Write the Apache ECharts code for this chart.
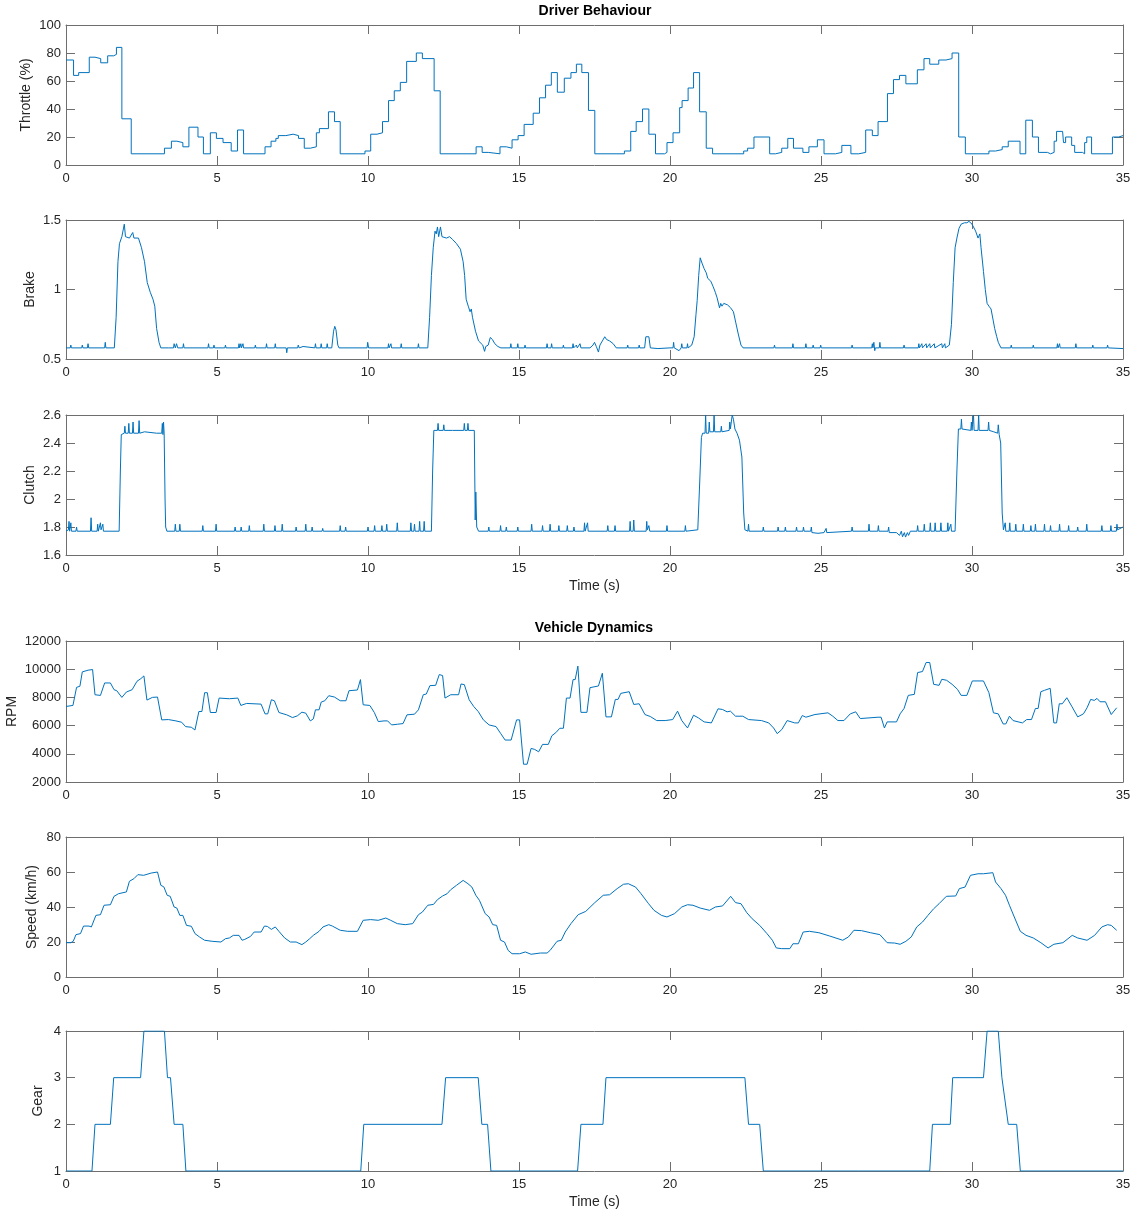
<!DOCTYPE html>
<html>
<head>
<meta charset="utf-8">
<script src="https://cdn.jsdelivr.net/npm/echarts@6/dist/echarts.min.js"></script>
<style>html,body{margin:0;padding:0;background:#fff}#c{width:1140px;height:1216px}</style>
</head>
<body>
<div id="c"></div>
<script>
// ---------- DATA (time in s, value) ----------
const xTicks = [0, 5, 10, 15, 20, 25, 30, 35];

const throttle = [[0,75],[0.25,64],[0.42,66],[0.77,77],[0.96,76],[1.15,73],[1.38,78],[1.58,79],[1.67,84],[1.85,33],[2.16,8],[3.26,12],[3.49,17],[3.67,16],[3.87,13],[4.07,27],[4.37,20],[4.55,8],[4.78,23],[4.98,19],[5.2,16],[5.47,10],[5.68,25],[5.88,8],[6.59,13],[6.79,17],[6.95,19],[7.03,21],[7.28,22],[7.52,21],[7.7,19],[7.89,12],[8.09,13],[8.29,23],[8.39,26],[8.69,38],[8.89,31],[9.08,8],[9.9,10],[10.09,22],[10.3,23],[10.48,31],[10.68,46],[10.87,53],[11.07,59],[11.28,74],[11.6,80],[11.8,76],[12.19,53],[12.39,8],[13.58,13],[13.78,9],[13.98,8],[14.37,13],[14.58,12],[14.77,18],[14.97,21],[15.17,29],[15.47,37],[15.68,48],[15.88,57],[16.07,66],[16.27,52],[16.5,62],[16.72,66],[16.9,72],[17.08,66],[17.3,39],[17.51,8],[18.49,10],[18.7,24],[18.88,31],[19.09,40],[19.3,22],[19.52,8],[19.82,9],[19.9,16],[20.1,23],[20.32,41],[20.4,46],[20.6,55],[20.78,66],[20.98,38],[21.2,12],[21.41,8],[22.44,10],[22.57,12],[22.78,20],[23.3,8],[23.49,9],[23.7,12],[23.9,19],[24.09,12],[24.4,9],[24.6,13],[24.88,18],[25.1,8],[25.48,9],[25.69,14],[25.99,8],[26.25,9],[26.48,25],[26.7,21],[26.89,31],[27.2,51],[27.4,61],[27.6,64],[27.81,58],[28.19,68],[28.41,76],[28.6,72],[28.9,75],[29.14,76],[29.34,80],[29.56,20],[29.78,8],[30.56,10],[30.78,11],[31.0,13],[31.2,17],[31.59,8],[31.78,32],[32.0,20],[32.2,9],[32.5,8],[32.6,9],[32.72,17],[32.8,24],[33.0,25],[33.03,16],[33.1,20],[33.3,14],[33.4,9],[33.66,8],[33.73,16],[33.8,20],[33.96,8],[34.65,20],[34.86,21],[35,21]];

const brake = [[0,0.58],[0.14,0.58],[0.16,0.6],[0.18,0.58],[0.2,0.59],[0.22,0.58],[0.52,0.58],[0.54,0.6],[0.56,0.58],[0.71,0.58],[0.73,0.61],[0.75,0.58],[1.28,0.58],[1.3,0.62],[1.32,0.58],[1.6,0.58],[1.66,0.8],[1.72,1.2],[1.77,1.33],[1.85,1.38],[1.93,1.47],[1.97,1.38],[2.1,1.37],[2.16,1.38],[2.21,1.41],[2.25,1.37],[2.4,1.37],[2.44,1.36],[2.5,1.3],[2.6,1.2],[2.69,1.05],[2.79,0.98],[2.88,0.93],[2.94,0.88],[3.0,0.72],[3.08,0.62],[3.14,0.58],[3.2,0.59],[3.4,0.58],[3.56,0.58],[3.58,0.61],[3.62,0.58],[3.66,0.61],[3.7,0.58],[3.87,0.58],[3.89,0.61],[3.91,0.58],[4.7,0.58],[4.72,0.61],[4.74,0.58],[4.88,0.58],[4.9,0.6],[4.92,0.58],[5.26,0.58],[5.28,0.6],[5.3,0.58],[5.71,0.58],[5.73,0.61],[5.75,0.58],[5.79,0.61],[5.81,0.58],[5.86,0.61],[5.88,0.58],[6.25,0.58],[6.27,0.6],[6.29,0.58],[6.62,0.58],[6.64,0.61],[6.66,0.58],[6.91,0.58],[6.93,0.61],[6.95,0.58],[7.29,0.58],[7.31,0.545],[7.33,0.58],[7.67,0.58],[7.69,0.6],[7.72,0.58],[7.85,0.59],[8.24,0.58],[8.26,0.61],[8.28,0.58],[8.43,0.58],[8.45,0.61],[8.47,0.58],[8.63,0.58],[8.65,0.61],[8.67,0.58],[8.8,0.58],[8.86,0.7],[8.9,0.735],[8.94,0.71],[9.0,0.6],[9.04,0.58],[9.97,0.58],[9.99,0.62],[10.02,0.58],[10.66,0.58],[10.68,0.61],[10.7,0.58],[10.76,0.61],[10.78,0.58],[11.08,0.58],[11.1,0.61],[11.12,0.58],[11.65,0.58],[11.67,0.61],[11.69,0.58],[11.98,0.58],[12.04,0.8],[12.1,1.1],[12.16,1.3],[12.22,1.42],[12.26,1.4],[12.3,1.45],[12.34,1.38],[12.4,1.45],[12.45,1.38],[12.6,1.37],[12.7,1.38],[12.8,1.36],[12.93,1.33],[13.06,1.29],[13.15,1.2],[13.2,1.1],[13.25,0.93],[13.32,0.88],[13.38,0.84],[13.42,0.86],[13.46,0.8],[13.56,0.7],[13.66,0.63],[13.8,0.6],[13.86,0.555],[13.9,0.59],[13.98,0.6],[14.05,0.655],[14.12,0.64],[14.2,0.61],[14.3,0.59],[14.4,0.58],[14.71,0.58],[14.73,0.61],[14.75,0.58],[14.94,0.58],[14.96,0.61],[14.98,0.58],[15.18,0.58],[15.2,0.6],[15.22,0.58],[15.91,0.58],[15.93,0.61],[15.95,0.58],[16.06,0.58],[16.08,0.61],[16.1,0.58],[16.45,0.58],[16.47,0.6],[16.49,0.58],[16.77,0.58],[16.79,0.61],[16.81,0.58],[16.9,0.6],[16.93,0.58],[17.02,0.61],[17.05,0.58],[17.35,0.58],[17.45,0.6],[17.5,0.62],[17.56,0.59],[17.63,0.55],[17.68,0.6],[17.76,0.63],[17.84,0.66],[17.9,0.64],[18.0,0.63],[18.12,0.61],[18.22,0.58],[18.58,0.58],[18.6,0.6],[18.62,0.58],[18.96,0.58],[18.98,0.6],[19.0,0.58],[19.16,0.58],[19.2,0.66],[19.3,0.66],[19.35,0.58],[19.6,0.575],[20.0,0.58],[20.1,0.58],[20.12,0.62],[20.14,0.58],[20.3,0.56],[20.37,0.58],[20.39,0.61],[20.41,0.58],[20.56,0.58],[20.58,0.61],[20.6,0.58],[20.72,0.6],[20.8,0.66],[20.86,0.82],[20.9,0.92],[20.95,1.1],[21.0,1.228],[21.06,1.19],[21.13,1.15],[21.2,1.12],[21.25,1.08],[21.35,1.06],[21.43,1.02],[21.5,0.98],[21.56,0.94],[21.64,0.868],[21.68,0.9],[21.72,0.88],[21.78,0.9],[21.9,0.89],[22.0,0.87],[22.1,0.84],[22.18,0.76],[22.26,0.68],[22.35,0.6],[22.42,0.58],[23.44,0.58],[23.46,0.6],[23.48,0.58],[24.05,0.58],[24.07,0.61],[24.09,0.58],[24.48,0.58],[24.5,0.61],[24.52,0.58],[24.72,0.58],[24.74,0.6],[24.76,0.58],[24.97,0.58],[24.99,0.6],[25.01,0.58],[26.01,0.58],[26.03,0.6],[26.05,0.58],[26.68,0.58],[26.7,0.61],[26.72,0.58],[26.75,0.62],[26.78,0.56],[26.8,0.58],[26.93,0.58],[26.95,0.62],[26.97,0.58],[27.73,0.58],[27.75,0.6],[27.77,0.58],[28.22,0.58],[28.24,0.61],[28.26,0.58],[28.34,0.61],[28.36,0.58],[28.48,0.61],[28.5,0.58],[28.6,0.61],[28.62,0.58],[28.75,0.61],[28.77,0.58],[29.0,0.61],[29.02,0.58],[29.1,0.61],[29.12,0.58],[29.25,0.6],[29.32,0.75],[29.38,1.05],[29.44,1.3],[29.5,1.37],[29.57,1.44],[29.64,1.47],[29.75,1.48],[29.83,1.48],[29.9,1.49],[29.95,1.5],[30.0,1.47],[30.05,1.45],[30.12,1.42],[30.2,1.37],[30.26,1.4],[30.3,1.3],[30.38,1.13],[30.44,1.0],[30.5,0.9],[30.56,0.88],[30.63,0.86],[30.7,0.78],[30.75,0.72],[30.82,0.66],[30.87,0.62],[30.96,0.58],[31.28,0.58],[31.3,0.6],[31.32,0.58],[32.01,0.58],[32.03,0.6],[32.05,0.58],[32.81,0.58],[32.83,0.61],[32.85,0.58],[32.9,0.61],[32.92,0.58],[33.42,0.58],[33.44,0.61],[33.46,0.58],[33.98,0.58],[34.0,0.6],[34.02,0.58],[34.47,0.58],[34.49,0.6],[34.51,0.58],[35,0.575]];

const clutch = [[0,1.77],[0.08,1.78],[0.1,1.84],[0.12,1.77],[0.14,1.8],[0.16,1.83],[0.18,1.77],[0.33,1.77],[0.35,1.8],[0.37,1.77],[0.81,1.77],[0.83,1.866],[0.85,1.77],[1.03,1.77],[1.05,1.82],[1.07,1.77],[1.12,1.77],[1.14,1.83],[1.16,1.78],[1.22,1.82],[1.24,1.77],[1.76,1.77],[1.8,2.2],[1.83,2.46],[1.93,2.47],[1.95,2.52],[1.97,2.47],[2.06,2.47],[2.08,2.54],[2.1,2.47],[2.2,2.47],[2.22,2.55],[2.24,2.47],[2.4,2.47],[2.42,2.56],[2.44,2.47],[2.6,2.48],[3.0,2.47],[3.17,2.47],[3.19,2.54],[3.21,2.46],[3.23,2.55],[3.25,2.47],[3.28,2.0],[3.3,1.8],[3.34,1.77],[3.6,1.77],[3.62,1.82],[3.64,1.77],[3.75,1.77],[3.77,1.82],[3.79,1.77],[4.51,1.77],[4.53,1.81],[4.55,1.77],[4.95,1.77],[4.97,1.82],[4.99,1.77],[5.58,1.77],[5.6,1.8],[5.62,1.77],[5.78,1.77],[5.8,1.8],[5.82,1.77],[6.05,1.77],[6.07,1.81],[6.09,1.77],[6.53,1.77],[6.55,1.82],[6.57,1.77],[6.9,1.77],[6.92,1.81],[6.94,1.77],[7.14,1.77],[7.16,1.82],[7.18,1.77],[7.6,1.77],[7.62,1.8],[7.64,1.77],[7.92,1.77],[7.94,1.82],[7.96,1.77],[8.13,1.77],[8.15,1.8],[8.17,1.77],[8.48,1.77],[8.5,1.79],[8.52,1.77],[9.06,1.77],[9.08,1.81],[9.1,1.77],[9.24,1.77],[9.26,1.8],[9.28,1.77],[9.98,1.77],[10.0,1.8],[10.02,1.77],[10.2,1.77],[10.22,1.81],[10.24,1.77],[10.44,1.77],[10.46,1.81],[10.48,1.77],[10.6,1.77],[10.62,1.82],[10.64,1.77],[10.95,1.77],[10.97,1.83],[10.99,1.77],[11.4,1.77],[11.42,1.83],[11.44,1.77],[11.52,1.77],[11.54,1.82],[11.56,1.77],[11.69,1.77],[11.71,1.84],[11.73,1.77],[11.84,1.77],[11.86,1.84],[11.88,1.77],[12.1,1.77],[12.14,2.2],[12.18,2.49],[12.3,2.49],[12.32,2.54],[12.34,2.49],[12.49,2.49],[12.51,2.53],[12.53,2.49],[12.8,2.49],[13.17,2.49],[13.19,2.54],[13.21,2.49],[13.29,2.49],[13.31,2.54],[13.33,2.49],[13.52,2.49],[13.55,1.85],[13.57,2.05],[13.6,1.8],[13.66,1.77],[13.98,1.77],[14.0,1.8],[14.02,1.77],[14.37,1.77],[14.39,1.81],[14.41,1.77],[14.56,1.77],[14.58,1.8],[14.6,1.77],[14.94,1.77],[14.96,1.8],[14.98,1.77],[15.4,1.77],[15.42,1.82],[15.44,1.77],[15.76,1.77],[15.78,1.81],[15.8,1.77],[16.01,1.77],[16.03,1.82],[16.05,1.77],[16.3,1.77],[16.32,1.81],[16.34,1.77],[16.58,1.77],[16.6,1.81],[16.62,1.77],[16.8,1.77],[16.82,1.8],[16.84,1.77],[17.15,1.77],[17.17,1.83],[17.19,1.77],[17.25,1.77],[17.27,1.83],[17.29,1.77],[17.92,1.77],[17.94,1.81],[17.96,1.77],[18.16,1.77],[18.18,1.81],[18.2,1.77],[18.66,1.77],[18.68,1.84],[18.7,1.77],[18.78,1.77],[18.8,1.85],[18.82,1.77],[19.21,1.77],[19.23,1.84],[19.25,1.78],[19.3,1.81],[19.33,1.77],[19.88,1.77],[19.9,1.81],[19.92,1.77],[20.49,1.77],[20.51,1.81],[20.53,1.77],[20.92,1.78],[20.98,2.1],[21.04,2.44],[21.08,2.47],[21.16,2.47],[21.18,2.6],[21.2,2.47],[21.28,2.47],[21.3,2.55],[21.32,2.48],[21.44,2.48],[21.46,2.6],[21.48,2.48],[21.68,2.48],[21.7,2.52],[21.72,2.48],[21.96,2.49],[21.98,2.55],[22.0,2.5],[22.06,2.6],[22.1,2.57],[22.15,2.5],[22.22,2.47],[22.3,2.42],[22.38,2.3],[22.44,1.9],[22.48,1.78],[22.58,1.77],[22.6,1.82],[22.62,1.77],[23.07,1.77],[23.09,1.8],[23.11,1.77],[23.56,1.77],[23.58,1.8],[23.6,1.77],[23.8,1.77],[23.82,1.8],[23.84,1.77],[24.17,1.77],[24.19,1.8],[24.21,1.77],[24.4,1.77],[24.42,1.8],[24.44,1.77],[24.66,1.77],[24.68,1.8],[24.7,1.76],[24.9,1.755],[25.1,1.76],[25.15,1.76],[25.17,1.79],[25.19,1.76],[26.01,1.77],[26.03,1.8],[26.05,1.77],[26.57,1.77],[26.59,1.82],[26.61,1.77],[26.88,1.77],[26.9,1.81],[26.92,1.77],[27.22,1.77],[27.24,1.8],[27.26,1.76],[27.5,1.76],[27.6,1.74],[27.66,1.77],[27.7,1.73],[27.76,1.76],[27.8,1.728],[27.86,1.76],[27.9,1.74],[27.96,1.77],[28.18,1.77],[28.2,1.81],[28.22,1.77],[28.4,1.77],[28.42,1.82],[28.44,1.77],[28.6,1.77],[28.62,1.83],[28.64,1.77],[28.76,1.77],[28.78,1.83],[28.8,1.77],[28.95,1.77],[28.97,1.83],[28.99,1.77],[29.18,1.77],[29.2,1.83],[29.22,1.77],[29.3,1.82],[29.32,1.77],[29.44,1.77],[29.5,2.2],[29.55,2.5],[29.63,2.5],[29.65,2.57],[29.67,2.5],[29.96,2.49],[29.98,2.55],[30.0,2.49],[30.03,2.49],[30.05,2.6],[30.07,2.49],[30.2,2.49],[30.22,2.6],[30.24,2.49],[30.53,2.49],[30.55,2.55],[30.57,2.49],[30.72,2.48],[30.85,2.47],[30.87,2.53],[30.9,2.46],[30.95,2.4],[31.0,1.9],[31.04,1.78],[31.08,1.77],[31.1,1.83],[31.12,1.77],[31.23,1.77],[31.25,1.83],[31.27,1.77],[31.43,1.77],[31.45,1.82],[31.47,1.77],[31.68,1.77],[31.7,1.82],[31.72,1.77],[31.93,1.77],[31.95,1.81],[31.97,1.77],[32.08,1.77],[32.1,1.82],[32.12,1.77],[32.38,1.77],[32.4,1.82],[32.42,1.77],[32.58,1.77],[32.6,1.81],[32.62,1.77],[32.88,1.77],[32.9,1.82],[32.92,1.77],[33.18,1.77],[33.2,1.81],[33.22,1.77],[33.48,1.77],[33.5,1.8],[33.52,1.77],[33.78,1.77],[33.8,1.82],[33.82,1.77],[34.28,1.77],[34.3,1.81],[34.32,1.77],[34.58,1.77],[34.6,1.81],[34.62,1.77],[34.78,1.77],[34.8,1.82],[34.82,1.78],[35,1.8]];

const rpm = [[0,7357],[0.23,7430],[0.29,7480],[0.35,8714],[0.46,8790],[0.54,9810],[0.73,9929],[0.88,9976],[0.96,8190],[1.14,8140],[1.28,9024],[1.47,9024],[1.59,8548],[1.68,8476],[1.85,8000],[2.0,8381],[2.19,8548],[2.35,9143],[2.48,9333],[2.58,9524],[2.68,7810],[2.86,8000],[3.03,8024],[3.17,6405],[3.39,6429],[3.64,6333],[3.83,6238],[3.96,5929],[4.15,5881],[4.27,5690],[4.4,7000],[4.5,7000],[4.59,8333],[4.68,8333],[4.78,6929],[4.97,6929],[5.07,7952],[5.41,7905],[5.69,7952],[5.79,7429],[5.98,7571],[6.46,7524],[6.59,6833],[6.68,6833],[6.8,7833],[6.9,7762],[7.05,6929],[7.31,6762],[7.5,6571],[7.66,6690],[7.81,6952],[7.94,6881],[8.09,6333],[8.19,6476],[8.26,7119],[8.38,7119],[8.45,7667],[8.57,7762],[8.7,8119],[8.89,8024],[9.08,7762],[9.27,7762],[9.37,8476],[9.65,8524],[9.75,9262],[9.84,7476],[10.06,7429],[10.21,6929],[10.34,6286],[10.53,6333],[10.65,6333],[10.78,6048],[10.97,6095],[11.16,6143],[11.29,6762],[11.54,6810],[11.67,7119],[11.83,8190],[11.93,8238],[12.05,8833],[12.24,8857],[12.36,9619],[12.47,9548],[12.55,7952],[12.74,8190],[13.0,8190],[13.08,8952],[13.19,8905],[13.35,7833],[13.5,7357],[13.65,7000],[13.82,6405],[14.01,6048],[14.24,5929],[14.39,5452],[14.54,4976],[14.74,4976],[14.92,6405],[15.02,6405],[15.15,3262],[15.27,3262],[15.4,4381],[15.52,4310],[15.65,4143],[15.78,4667],[15.97,4667],[16.09,5286],[16.22,5500],[16.35,5810],[16.47,5810],[16.57,7952],[16.69,7952],[16.79,9262],[16.86,9262],[16.95,10220],[17.05,6940],[17.25,6940],[17.35,8690],[17.63,8810],[17.76,9714],[17.88,6619],[18.06,6619],[18.19,7857],[18.28,7857],[18.37,8286],[18.65,8405],[18.8,7500],[18.98,7548],[19.17,6786],[19.35,6643],[19.56,6357],[19.84,6357],[20.09,6429],[20.25,7024],[20.39,6357],[20.58,5833],[20.78,6738],[20.94,6548],[21.13,6262],[21.37,6190],[21.59,7190],[21.74,7143],[21.89,6976],[22.0,7024],[22.17,6667],[22.41,6667],[22.6,6429],[23.03,6357],[23.27,6190],[23.43,5833],[23.55,5429],[23.7,5714],[23.88,6357],[24.13,6190],[24.25,6190],[24.38,6714],[24.5,6595],[24.8,6786],[25.23,6905],[25.39,6667],[25.56,6357],[25.76,6357],[25.97,6833],[26.15,6976],[26.3,6500],[26.89,6595],[26.99,6595],[27.1,5833],[27.19,6262],[27.5,6262],[27.62,6833],[27.75,7214],[27.89,8143],[28.09,8214],[28.2,9762],[28.36,9833],[28.48,10476],[28.6,10476],[28.73,8929],[28.91,8857],[29.0,9286],[29.16,9214],[29.34,8929],[29.52,8571],[29.64,8143],[29.83,8143],[30.01,9167],[30.38,9167],[30.56,8333],[30.71,6905],[30.87,6833],[31.03,6119],[31.12,6119],[31.24,6667],[31.36,6357],[31.67,6190],[31.81,6429],[31.97,6429],[32.1,7214],[32.19,7214],[32.28,8405],[32.4,8500],[32.59,8643],[32.71,6190],[32.8,6190],[32.89,7548],[32.99,7548],[33.14,7976],[33.3,7381],[33.5,6619],[33.69,6833],[33.81,7262],[33.93,7857],[34.05,7786],[34.14,7929],[34.24,7690],[34.42,7690],[34.61,6786],[34.79,7262]];

const speed = [[0,19.6],[0.16,19.6],[0.24,20.4],[0.33,24.2],[0.48,24.8],[0.58,29.1],[0.76,29.1],[0.84,28.6],[0.99,35.2],[1.14,35.6],[1.26,41],[1.47,41.3],[1.59,46.1],[1.74,47.6],[2.0,48.6],[2.1,54.7],[2.25,56.2],[2.38,58.5],[2.57,58.1],[2.82,59.4],[3.03,60],[3.14,52.4],[3.24,51.5],[3.35,46.7],[3.45,46.1],[3.58,40],[3.67,39.4],[3.77,35.2],[3.87,35.2],[3.99,29.5],[4.15,29],[4.27,24.8],[4.42,22.9],[4.59,21],[4.84,20.4],[5.13,20],[5.28,21.9],[5.41,22.3],[5.54,23.8],[5.73,23.8],[5.83,21],[5.92,21.5],[6.11,23.2],[6.23,25.7],[6.46,25.7],[6.57,29.1],[6.67,28.9],[6.8,27.2],[6.93,28.6],[7.05,26.1],[7.24,22.3],[7.43,20],[7.62,20],[7.81,18.5],[7.94,20],[8.07,21.9],[8.19,23.8],[8.38,26.1],[8.51,28.6],[8.7,29.9],[8.82,29.1],[9.08,26.7],[9.33,26.1],[9.65,26.1],[9.84,32.4],[10.09,32.8],[10.34,32.4],[10.59,33.7],[10.75,32.4],[10.97,30.5],[11.23,29.9],[11.48,30.5],[11.67,35.6],[11.8,37.1],[11.98,41],[12.17,41.5],[12.3,44.2],[12.47,46.3],[12.62,47.6],[12.74,49.9],[12.93,52.4],[13.15,55.2],[13.31,53.3],[13.44,51.4],[13.57,46.7],[13.69,43.8],[13.88,36.2],[14.01,34.3],[14.13,29.9],[14.26,29.5],[14.39,21],[14.52,20],[14.64,15.2],[14.77,13.3],[15.02,13.3],[15.21,14.3],[15.4,13],[15.71,13.7],[15.93,13.7],[16.03,15.2],[16.26,20.4],[16.4,21],[16.53,25.7],[16.72,30.5],[16.96,35.6],[17.21,37.5],[17.51,42.5],[17.79,46.7],[18.0,47],[18.25,50.5],[18.46,53],[18.62,53.3],[18.86,51.4],[19.04,47.6],[19.29,41.9],[19.47,38.1],[19.72,35.2],[19.9,34.3],[20.15,36.2],[20.39,40],[20.58,41.3],[20.76,41],[21.0,39.4],[21.31,38.1],[21.5,40],[21.74,40.6],[22.01,46.1],[22.17,42.5],[22.35,41.9],[22.54,36.8],[22.72,33.3],[22.97,29.5],[23.21,24.8],[23.39,21],[23.52,16.6],[23.7,16.2],[23.97,16.2],[24.07,19],[24.25,19],[24.41,25.7],[24.62,26.1],[24.93,25.3],[25.29,23.4],[25.72,21],[25.91,22.9],[26.09,26.7],[26.34,26.5],[26.64,25.3],[26.95,24.2],[27.19,19.6],[27.44,19.4],[27.62,18.7],[27.81,20.4],[27.99,22.9],[28.17,28.6],[28.36,31.4],[28.54,35.2],[28.73,39],[28.91,41.9],[29.15,46.1],[29.46,46.3],[29.58,50.5],[29.77,51.4],[29.95,58.1],[30.2,59],[30.38,59],[30.69,59.6],[30.78,54.3],[30.96,50.5],[31.11,46.7],[31.24,41],[31.4,34.3],[31.6,26.1],[31.79,23.8],[32.03,22.3],[32.28,19.6],[32.52,16.6],[32.71,18.7],[33.01,19.6],[33.32,23.8],[33.5,22.3],[33.81,21],[34.06,23.8],[34.3,28.6],[34.49,29.9],[34.61,29.5],[34.79,26.7]];

const gear = [[0,1],[0.86,1],[0.96,2],[1.47,2],[1.58,3],[2.47,3],[2.58,4],[3.26,4],[3.36,3],[3.46,3],[3.58,2],[3.87,2],[3.97,1],[9.76,1],[9.86,2],[12.45,2],[12.57,3],[13.65,3],[13.77,2],[13.96,2],[14.07,1],[16.94,1],[17.05,2],[17.78,2],[17.88,3],[22.48,3],[22.6,2],[22.97,2],[23.09,1],[28.6,1],[28.69,2],[29.28,2],[29.36,3],[30.38,3],[30.5,4],[30.87,4],[30.99,3],[31.04,3],[31.2,2],[31.48,2],[31.6,1],[35,1]];

// ---------- LAYOUT ----------
const FONT = '"Liberation Sans", Arial, Helvetica, sans-serif';
const AXIS_COLOR = '#6e6e6e';
const TEXT_COLOR = '#262626';
const LINE_COLOR = '#0072BD';
const GRID_LEFT = 66, GRID_RIGHT = 17;

const panels = [
  {data: throttle, step: 'end', name: 'Throttle (%)', min: 0, max: 100, interval: 20, top: 25, height: 140, gap: 33, xname: false},
  {data: brake, step: false, name: 'Brake', min: 0.5, max: 1.5, interval: 0.5, top: 220, height: 139, gap: 29, xname: false},
  {data: clutch, step: false, name: 'Clutch', min: 1.6, max: 2.6, interval: 0.2, top: 415, height: 140, gap: 29, xname: true},
  {data: rpm, step: false, name: 'RPM', min: 2000, max: 12000, interval: 2000, top: 641, height: 141, gap: 47, xname: false},
  {data: speed, step: false, name: 'Speed (km/h)', min: 0, max: 80, interval: 20, top: 837, height: 140, gap: 27, xname: false},
  {data: gear, step: false, name: 'Gear', min: 1, max: 4, interval: 1, top: 1031, height: 140, gap: 21, xname: true}
];

const fmt = v => String(+(+v).toFixed(4));

const grids = [], xAxes = [], yAxes = [], series = [];
panels.forEach((p, i) => {
  grids.push({left: GRID_LEFT, right: GRID_RIGHT, top: p.top, height: p.height, containLabel: false, outerBoundsMode: 'none'});
  const tickStyle = {show: true, inside: true, length: 9, lineStyle: {color: AXIS_COLOR, width: 1}};
  const lineStyle = {show: true, onZero: false, lineStyle: {color: AXIS_COLOR, width: 1}};
  xAxes.push({
    type: 'value', gridIndex: i, min: xTicks[0], max: xTicks[xTicks.length - 1], interval: 5, position: 'bottom',
    axisLine: lineStyle, axisTick: tickStyle, splitLine: {show: false},
    axisLabel: {show: true, margin: 7, color: TEXT_COLOR, fontSize: 13, fontFamily: FONT, formatter: fmt},
    name: p.xname ? 'Time (s)' : '', nameLocation: 'middle', nameGap: 24, nameMoveOverlap: false,
    nameTextStyle: {color: TEXT_COLOR, fontSize: 14, fontFamily: FONT}
  });
  xAxes.push({
    type: 'value', gridIndex: i, min: xTicks[0], max: xTicks[xTicks.length - 1], interval: 5, position: 'top',
    axisLine: lineStyle, axisTick: tickStyle, splitLine: {show: false}, axisLabel: {show: false}
  });
  yAxes.push({
    type: 'value', gridIndex: i, min: p.min, max: p.max, interval: p.interval, position: 'left',
    axisLine: lineStyle, axisTick: tickStyle, splitLine: {show: false},
    axisLabel: {show: true, margin: 5, color: TEXT_COLOR, fontSize: 13, fontFamily: FONT, formatter: fmt},
    name: p.name, nameLocation: 'middle', nameRotate: 90, nameGap: p.gap, nameMoveOverlap: false,
    nameTextStyle: {color: TEXT_COLOR, fontSize: 14, fontFamily: FONT}
  });
  yAxes.push({
    type: 'value', gridIndex: i, min: p.min, max: p.max, interval: p.interval, position: 'right',
    axisLine: lineStyle, axisTick: tickStyle, splitLine: {show: false}, axisLabel: {show: false}
  });
  series.push({
    type: 'line', xAxisIndex: 2 * i, yAxisIndex: 2 * i, data: p.data, step: p.step,
    showSymbol: false, symbol: 'none', clip: true, animation: false,
    lineStyle: {color: LINE_COLOR, width: 1}
  });
});

const chart = echarts.init(document.getElementById('c'), null, {renderer: 'canvas'});
chart.setOption({
  backgroundColor: '#ffffff',
  animation: false,
  grid: grids, xAxis: xAxes, yAxis: yAxes, series: series,
  graphic: [
    {type: 'text', x: 595, y: 11, style: {text: 'Driver Behaviour', font: 'bold 14px ' + FONT, fill: '#000', align: 'center', verticalAlign: 'middle'}},
    {type: 'text', x: 594, y: 628, style: {text: 'Vehicle Dynamics', font: 'bold 14px ' + FONT, fill: '#000', align: 'center', verticalAlign: 'middle'}}
  ]
});
</script>
</body>
</html>
